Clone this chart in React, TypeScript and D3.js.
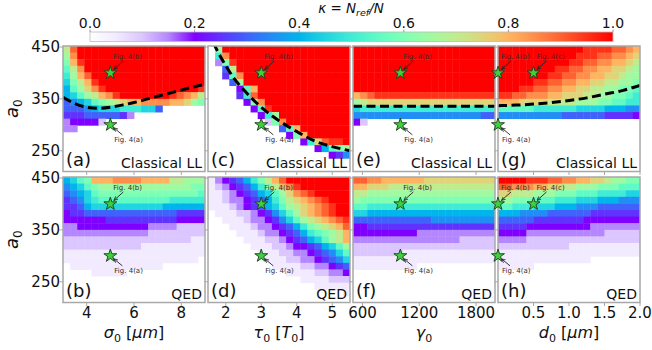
import React from 'react';
import * as d3 from 'd3';

// each character is one cell of kappa = N_ref/N, '0'..'K' -> 0.00..1.00 in steps of 0.05
const LEVELS = '0123456789ABCDEFGHIJK';

// rows run from a0 = 450 (top) down to a0 = 210 (bottom)
const kappaA = [
  'EIKKKKKKKKKKKKKKKKKK',
  'DHKKKKKKKKKKKKKKKKKK',
  'CGJKKKKKKKKKKKKKKKKK',
  'BEHKKKKKKKKKKKKKKKKK',
  'ADGIKKKKKKKKKKKKKKKK',
  '9CEGJKKKKKKKKKKKKKKK',
  '8BDFHJKKKKKKKKKKKKKJ',
  '89BDEGHJKKKKKKKJIHGE',
  '6789BCDEFGGHHHHGGFDC',
  '66678999AAA996000000',
  '55566666530000000000',
  '34444200000000000000',
  '33000000000000000000',
  '00000000000000000000',
  '00000000000000000000',
  '00000000000000000000',
  '00000000000000000000',
  '00000000000000000000',
  '00000000000000000000',
];

const kappaB = [
  '89BCGGGHHHHGGGGEEDDD',
  '789BCDDDDDDDDDDDDDCC',
  '6789BCCCCCCCCCCCCCCB',
  '5679ABBBBBBBBBBAAAAA',
  '55689999999999888888',
  '45566666666666665555',
  '44444455555555554444',
  '33444444444433332222',
  '33333333333322222222',
  '22222222222222222211',
  '22222222222111111111',
  '11111111111111111111',
  '11111111111111111110',
  '01111111111111000000',
  '00001111100000000000',
  '00000000000000000000',
  '00000000000000000000',
  '00000000000000000000',
  '00000000000000000000',
];

const kappaC = [
  '0DKKKKKKKKKKKKKKKKKK',
  '0AHKKKKKKKKKKKKKKKKK',
  '03CJKKKKKKKKKKKKKKKK',
  '006EKKKKKKKKKKKKKKKK',
  '005BHKKKKKKKKKKKKKKK',
  '0006DKKKKKKKKKKKKKKK',
  '00004BGKKKKKKKKKKKKK',
  '00005AIKKKKKKKKKKKKK',
  '000004CHKKKKKKKKKKKK',
  '0000004BJKKKKKKKKKKK',
  '00000004ADKKKKKKKKKK',
  '000000002CHKKKKKKKKK',
  '00000000006BGKKKKKKK',
  '000000000004CGKKKKKK',
  '00000000000004AFIJJK',
  '00000000000000048BCD',
  '00000000000000000457',
  '00000000000000000000',
  '00000000000000000000',
];

const kappaD = [
  '134568ACEGIKKKKKKKKK',
  '1234568ACEGHJKKKKKKK',
  '112345689BDFHIJKKKKK',
  '112334568ACEFGHIJKKK',
  '1112345689BDEFGHIJKK',
  '01112234579BDFGHIJKK',
  '001112334579BDEFGHIJ',
  '0001112334568ACDEFGI',
  '00001112334568ABCDEG',
  '0000011122345689BDEG',
  '000000111223445689BD',
  '0000000111223345679B',
  '00000000111223345679',
  '00000000011112233456',
  '00000000000111122334',
  '00000000000001111222',
  '00000000000000011111',
  '00000000000000000001',
  '00000000000000000000',
];

const kappaE = [
  'KKKKKKKKKKKKKKKKKKKK',
  'KKKKKKKKKKKKKKKKKKKK',
  'KKKKKKKKKKKKKKKKKKKK',
  'KKKKKKKKKKKKKKKKKKKK',
  'KKKKKKKKKKKKKKKKKKKK',
  'KKKKKKKKKKKKKKKKKKKK',
  'KKKKKKKKKKKKKKKKKKKK',
  'GHIJJJJJJJJJJJJJJJJJ',
  'DEFFFFFFFFFFFFFFFFFF',
  '9AAAAAAAAAAAAAAAAAAA',
  '77777777777777777766',
  '42000000000000000000',
  '00000000000000000000',
  '00000000000000000000',
  '00000000000000000000',
  '00000000000000000000',
  '00000000000000000000',
  '00000000000000000000',
  '00000000000000000000',
];

const kappaF = [
  'IIHHGGGGGGFFFFFFFFFF',
  'GGFFFEEEEEEEEEEEEEEE',
  'EEDDDDDDDDDDDDDDDDDD',
  'DCCCCCCCCCCCCCCCCCCC',
  'BBAAAAAAAAAAAAAAAAAA',
  '99888888888888888888',
  '66666666666777777777',
  '44555555555555555555',
  '44444444433333333333',
  '33333333333333322222',
  '22222222222222222222',
  '22222221111111111111',
  '11111111111111111111',
  '11111111100000000000',
  '00000000000000000000',
  '00000000000000000000',
  '00000000000000000000',
  '00000000000000000000',
  '00000000000000000000',
];

const kappaG = [
  'KKKKKKKKKKKKJJJJIIHG',
  'KKKKKKKKKKKJJJIIHHGF',
  'KKKKKKKKKKJJIIHHGGFE',
  'KKKKKKKKJJIIHHGGFFED',
  'KKKKKKKJJIIHHGGFFEDD',
  'KKKKKJJIIHHGGFFEEDDC',
  'KKKJJIIHHGGFFEEDDCCB',
  'JJIIHHHGGFFFEEDDCCBA',
  'GGGFFFFEEEEDDDCCBBAA',
  'BBBBBAAAAAA999988877',
  '77777777766666655554',
  '00000000000000000000',
  '00000000000000000000',
  '00000000000000000000',
  '00000000000000000000',
  '00000000000000000000',
  '00000000000000000000',
  '00000000000000000000',
  '00000000000000000000',
];

const kappaH = [
  'KKKKJJJIIHHGGFFEDDCC',
  'IIHHHGGFFEEDDDCCCBBB',
  'FFEEEDDDCCCBBBAAAA99',
  'DDCCCBBBAAA999888777',
  'BBAAA999888777666666',
  '88877776666665555555',
  '66666555555544444444',
  '55554444444443333333',
  '44443333333333322222',
  '33332222222222222222',
  '22222222221111111111',
  '11111111111111111111',
  '11111111111110000000',
  '11111000000000000000',
  '00000000000000000000',
  '00000000000000000000',
  '00000000000000000000',
  '00000000000000000000',
  '00000000000000000000',
];

const kappaTicks = [0, 0.2, 0.4, 0.6, 0.8, 1.0];
const a0Ticks = [250, 350, 450];
const sigmaTicks = [4, 6, 8];
const tauTicks = [2, 3, 4, 5];
const gammaTicks = [600, 1200, 1800];
const dTicks = [0.5, 1.0, 1.5, 2.0];

// classical threshold curves (dashed)
const lineSigma = [3.0, 3.5, 4.0, 4.5, 5.0, 5.5, 6.0, 6.5, 7.0, 7.5, 8.0, 8.5, 9.0];
const lineSigmaA0 = [353, 341, 334, 332, 334, 338, 343, 349, 355, 361, 367, 373, 378];
const lineTau = [1.65, 1.8, 2.0, 2.25, 2.5, 2.75, 3.0, 3.25, 3.5, 3.75, 4.0, 4.5, 5.0, 5.5];
const lineTauA0 = [458, 438, 414, 388, 368, 350, 334, 320, 308, 297, 287, 269, 258, 250];
const lineGamma = [500, 1000, 1500, 2000];
const lineGammaA0 = [336, 336, 336, 336];
const lineD = [0, 0.25, 0.5, 0.75, 1.0, 1.25, 1.5, 1.75, 2.0];
const lineDA0 = [337, 338, 340, 343, 347, 352, 359, 366, 376];

const starsSigma = [
  { v: 5, a0: 400, label: 'Fig. 4(b)', up: true },
  { v: 5, a0: 300, label: 'Fig. 4(a)', up: false },
];
const starsTau = [
  { v: 3, a0: 400, label: 'Fig. 4(b)', up: true },
  { v: 3, a0: 300, label: 'Fig. 4(a)', up: false },
];
const starsGamma = [
  { v: 1000, a0: 400, label: 'Fig. 4(b)', up: true },
  { v: 1000, a0: 300, label: 'Fig. 4(a)', up: false },
];
const starsD = [
  { v: 0, a0: 400, label: 'Fig. 4(b)', up: true },
  { v: 0.5, a0: 400, label: 'Fig. 4(c)', up: true },
  { v: 0, a0: 300, label: 'Fig. 4(a)', up: false },
];

const FONT = 'DejaVu Sans';
const COLS = 20;
const ROWS = 19;
const COL_X = [63, 208, 353, 498];
const COL_W = 142;
const ROW_Y = [46, 177];
const ROW_H = 125.5;
const A0_DOMAIN = [210, 452];
const FRAME = '#a8a8a8';

// pale lavender start, purple at 0.2
const lowRamp = d3.scaleLinear<string>()
  .domain([0, 0.05, 0.1, 0.15, 0.2])
  .range(['#ffffff', '#f2eaff', '#dcc6ff', '#b486ff', '#8000ff'])
  .interpolate(d3.interpolateRgb);

// white -> purple for kappa < 0.2, then matplotlib's "rainbow"
function kappaColor(k: number): string {
  if (k <= 0.2) return lowRamp(k);
  const t = (k - 0.2) / 0.8;
  const r = Math.min(1, Math.abs(2 * t - 0.5));
  const g = Math.sin(Math.PI * t);
  const b = Math.cos((Math.PI * t) / 2);
  return d3.rgb(r * 255, g * 255, b * 255).formatHex();
}

const decode = (rows: string[]) =>
  rows.map((r) => r.split('').map((ch) => Math.max(0, LEVELS.indexOf(ch)) / 20));

const starPath = d3.symbol().type(d3.symbolStar).size(52)() as string;

interface PanelProps {
  col: number;
  row: number;
  grid: string[];
  xDomain: [number, number];
  ticks: number[];
  fmt: (n: number) => string;
  line?: [number[], number[]];
  stars: { v: number; a0: number; label: string; up: boolean }[];
  tag: string;
  model: string;
  axisLabel?: React.ReactNode;
}

const Panel: React.FC<PanelProps> = ({ col, row, grid, xDomain, ticks, fmt, line, stars, tag, model, axisLabel }) => {
  const x0 = COL_X[col];
  const y0 = ROW_Y[row];
  const x = d3.scaleLinear().domain(xDomain).range([x0, x0 + COL_W]);
  const y = d3.scaleLinear().domain(A0_DOMAIN).range([y0 + ROW_H, y0]);
  const cx = d3.scaleBand<number>().domain(d3.range(COLS)).range([x0, x0 + COL_W]);
  const cy = d3.scaleBand<number>().domain(d3.range(ROWS)).range([y0, y0 + ROW_H]);
  const cells = decode(grid);
  const clipId = `clip-${col}-${row}`;

  let linePath: string | null = null;
  if (line) {
    const pts = line[0].map((v, i) => [v, line[1][i]] as [number, number]);
    linePath = d3.line<[number, number]>()
      .x((d) => x(d[0]))
      .y((d) => y(d[1]))
      .curve(d3.curveMonotoneX)(pts);
  }

  return (
    <g>
      <clipPath id={clipId}>
        <rect x={x0} y={y0} width={COL_W} height={ROW_H} />
      </clipPath>
      <rect x={x0} y={y0} width={COL_W} height={ROW_H} fill="#ffffff" />
      <g clipPath={`url(#${clipId})`}>
        {cells.map((r, ri) =>
          r.map((k, ci) =>
            k > 0 ? (
              <rect
                key={`${ri}-${ci}`}
                x={cx(ci)}
                y={cy(ri)}
                width={cx.bandwidth() + 0.4}
                height={cy.bandwidth() + 0.4}
                fill={kappaColor(k)}
              />
            ) : null
          )
        )}
        {linePath && (
          <path d={linePath} fill="none" stroke="#000" strokeWidth={3} strokeDasharray="9,4.5" />
        )}
      </g>
      <rect x={x0} y={y0} width={COL_W} height={ROW_H} fill="none" stroke={FRAME} strokeWidth={1.5} />

      {a0Ticks.map((t) => (
        <line key={`yt${t}`} x1={x0 - 3.5} x2={x0} y1={y(t)} y2={y(t)} stroke={FRAME} strokeWidth={1} />
      ))}
      {col === 0 &&
        a0Ticks.map((t) => (
          <text key={`yl${t}`} x={60} y={y(t)} dy="0.36em" textAnchor="end" fontSize={15} fill="#111">
            {t}
          </text>
        ))}
      {ticks.map((t) => (
        <line key={`xt${t}`} x1={x(t)} x2={x(t)} y1={y0 + ROW_H} y2={y0 + ROW_H + 3.5} stroke={FRAME} strokeWidth={1} />
      ))}
      {row === 1 &&
        ticks.map((t) => (
          <text key={`xl${t}`} x={x(t)} y={318} textAnchor="middle" fontSize={15} fill="#111">
            {fmt(t)}
          </text>
        ))}
      {row === 1 && axisLabel && (
        <text x={x0 + COL_W / 2} y={338} textAnchor="middle" fontSize={16} fill="#111">
          {axisLabel}
        </text>
      )}

      {stars.map((s, i) => {
        const sx = x(s.v);
        const sy = y(s.a0);
        const tx = s.up ? sx + 3 : sx + 4;
        const ty = s.up ? sy - 14 : sy + 17;
        const ax1 = s.up ? sx + 13 : sx + 12;
        const ay1 = s.up ? sy - 12 : sy + 10;
        const ax2 = sx + 3.5;
        const ay2 = s.up ? sy - 3.5 : sy + 3;
        return (
          <g key={`s${i}`}>
            <line x1={ax1} y1={ay1} x2={ax2} y2={ay2} stroke="#222" strokeWidth={0.9} markerEnd="url(#arrowHead)" />
            <path d={starPath} transform={`translate(${sx},${sy})`} fill="#3fcf3f" stroke="#1b3d1b" strokeWidth={0.9} />
            <text x={tx} y={ty} fontSize={7} fill="#3a2a2a">
              {s.label}
            </text>
          </g>
        );
      })}

      <text x={x0 + 3} y={y0 + ROW_H - 6} fontSize={18} fill="#111">
        {tag}
      </text>
      <text x={x0 + COL_W - 3} y={y0 + ROW_H - 4} textAnchor="end" fontSize={14} fill="#111">
        {model}
      </text>
    </g>
  );
};

const fmtInt = (n: number) => d3.format('d')(n);
const fmtOne = (n: number) => d3.format('.1f')(n);

const sub = (s: string, italic = false) => (
  <tspan dy={3.5} fontSize={11} fontStyle={italic ? 'italic' : 'normal'}>{s}</tspan>
);

const App: React.FC = () => {
  const cb = d3.scaleLinear().domain([0, 1]).range([90, 613]);
  const gradStops = d3.range(0, 1.0001, 0.01);

  const sigmaLabel = (
    <>
      <tspan fontStyle="italic">σ</tspan>
      {sub('0')}
      <tspan dy={-3.5}> [</tspan>
      <tspan fontStyle="italic">μm</tspan>
      <tspan>]</tspan>
    </>
  );
  const tauLabel = (
    <>
      <tspan fontStyle="italic">τ</tspan>
      {sub('0')}
      <tspan dy={-3.5}> [</tspan>
      <tspan fontStyle="italic">T</tspan>
      {sub('0')}
      <tspan dy={-3.5}>]</tspan>
    </>
  );
  const gammaLabel = (
    <>
      <tspan fontStyle="italic">γ</tspan>
      {sub('0')}
    </>
  );
  const dLabel = (
    <>
      <tspan fontStyle="italic">d</tspan>
      {sub('0')}
      <tspan dy={-3.5}> [</tspan>
      <tspan fontStyle="italic">μm</tspan>
      <tspan>]</tspan>
    </>
  );

  return (
    <svg
      width={652}
      height={350}
      style={{ position: 'absolute', left: 0, top: 0, background: '#fff' }}
      fontFamily={FONT}
    >
      <defs>
        <linearGradient id="kappaGrad" x1="0" x2="1" y1="0" y2="0">
          {gradStops.map((t) => (
            <stop key={t} offset={`${t * 100}%`} stopColor={kappaColor(t)} />
          ))}
        </linearGradient>
        <marker id="arrowHead" viewBox="0 0 6 6" refX={5.5} refY={3} markerWidth={5} markerHeight={5} orient="auto">
          <path d="M0,0.6 L5.5,3 L0,5.4" fill="none" stroke="#222" strokeWidth={1} />
        </marker>
      </defs>

      {/* colour bar */}
      <text x={351} y={13} textAnchor="middle" fontSize={13.5} fill="#111">
        <tspan fontStyle="italic">κ</tspan>
        <tspan> = </tspan>
        <tspan fontStyle="italic">N</tspan>
        <tspan dy={3} fontSize={9.5} fontStyle="italic">ref</tspan>
        <tspan dy={-3} fontStyle="italic">/N</tspan>
      </text>
      <rect x={cb(0)} y={32} width={cb(1) - cb(0)} height={9.5} fill="url(#kappaGrad)" stroke="#bbb" strokeWidth={0.8} />
      {kappaTicks.map((t) => (
        <g key={t}>
          <line x1={cb(t)} x2={cb(t)} y1={32} y2={29.5} stroke="#888" strokeWidth={0.8} />
          <text x={cb(t)} y={28} textAnchor="middle" fontSize={14} fill="#111">
            {fmtOne(t)}
          </text>
        </g>
      ))}

      {/* y labels */}
      {ROW_Y.map((ry) => (
        <text
          key={ry}
          transform={`translate(18,${ry + ROW_H / 2}) rotate(-90)`}
          textAnchor="middle"
          fontSize={18}
          fill="#111"
        >
          <tspan fontStyle="italic">a</tspan>
          <tspan dy={4} fontSize={12}>0</tspan>
        </text>
      ))}

      <Panel col={0} row={0} grid={kappaA} xDomain={[3, 9]} ticks={sigmaTicks} fmt={fmtInt}
        line={[lineSigma, lineSigmaA0]} stars={starsSigma} tag="(a)" model="Classical LL" />
      <Panel col={0} row={1} grid={kappaB} xDomain={[3, 9]} ticks={sigmaTicks} fmt={fmtInt}
        stars={starsSigma} tag="(b)" model="QED" axisLabel={sigmaLabel} />
      <Panel col={1} row={0} grid={kappaC} xDomain={[1.5, 5.5]} ticks={tauTicks} fmt={fmtInt}
        line={[lineTau, lineTauA0]} stars={starsTau} tag="(c)" model="Classical LL" />
      <Panel col={1} row={1} grid={kappaD} xDomain={[1.5, 5.5]} ticks={tauTicks} fmt={fmtInt}
        stars={starsTau} tag="(d)" model="QED" axisLabel={tauLabel} />
      <Panel col={2} row={0} grid={kappaE} xDomain={[500, 2000]} ticks={gammaTicks} fmt={fmtInt}
        line={[lineGamma, lineGammaA0]} stars={starsGamma} tag="(e)" model="Classical LL" />
      <Panel col={2} row={1} grid={kappaF} xDomain={[500, 2000]} ticks={gammaTicks} fmt={fmtInt}
        stars={starsGamma} tag="(f)" model="QED" axisLabel={gammaLabel} />
      <Panel col={3} row={0} grid={kappaG} xDomain={[0, 2]} ticks={dTicks} fmt={fmtOne}
        line={[lineD, lineDA0]} stars={starsD} tag="(g)" model="Classical LL" />
      <Panel col={3} row={1} grid={kappaH} xDomain={[0, 2]} ticks={dTicks} fmt={fmtOne}
        stars={starsD} tag="(h)" model="QED" axisLabel={dLabel} />
    </svg>
  );
};

export default App;
